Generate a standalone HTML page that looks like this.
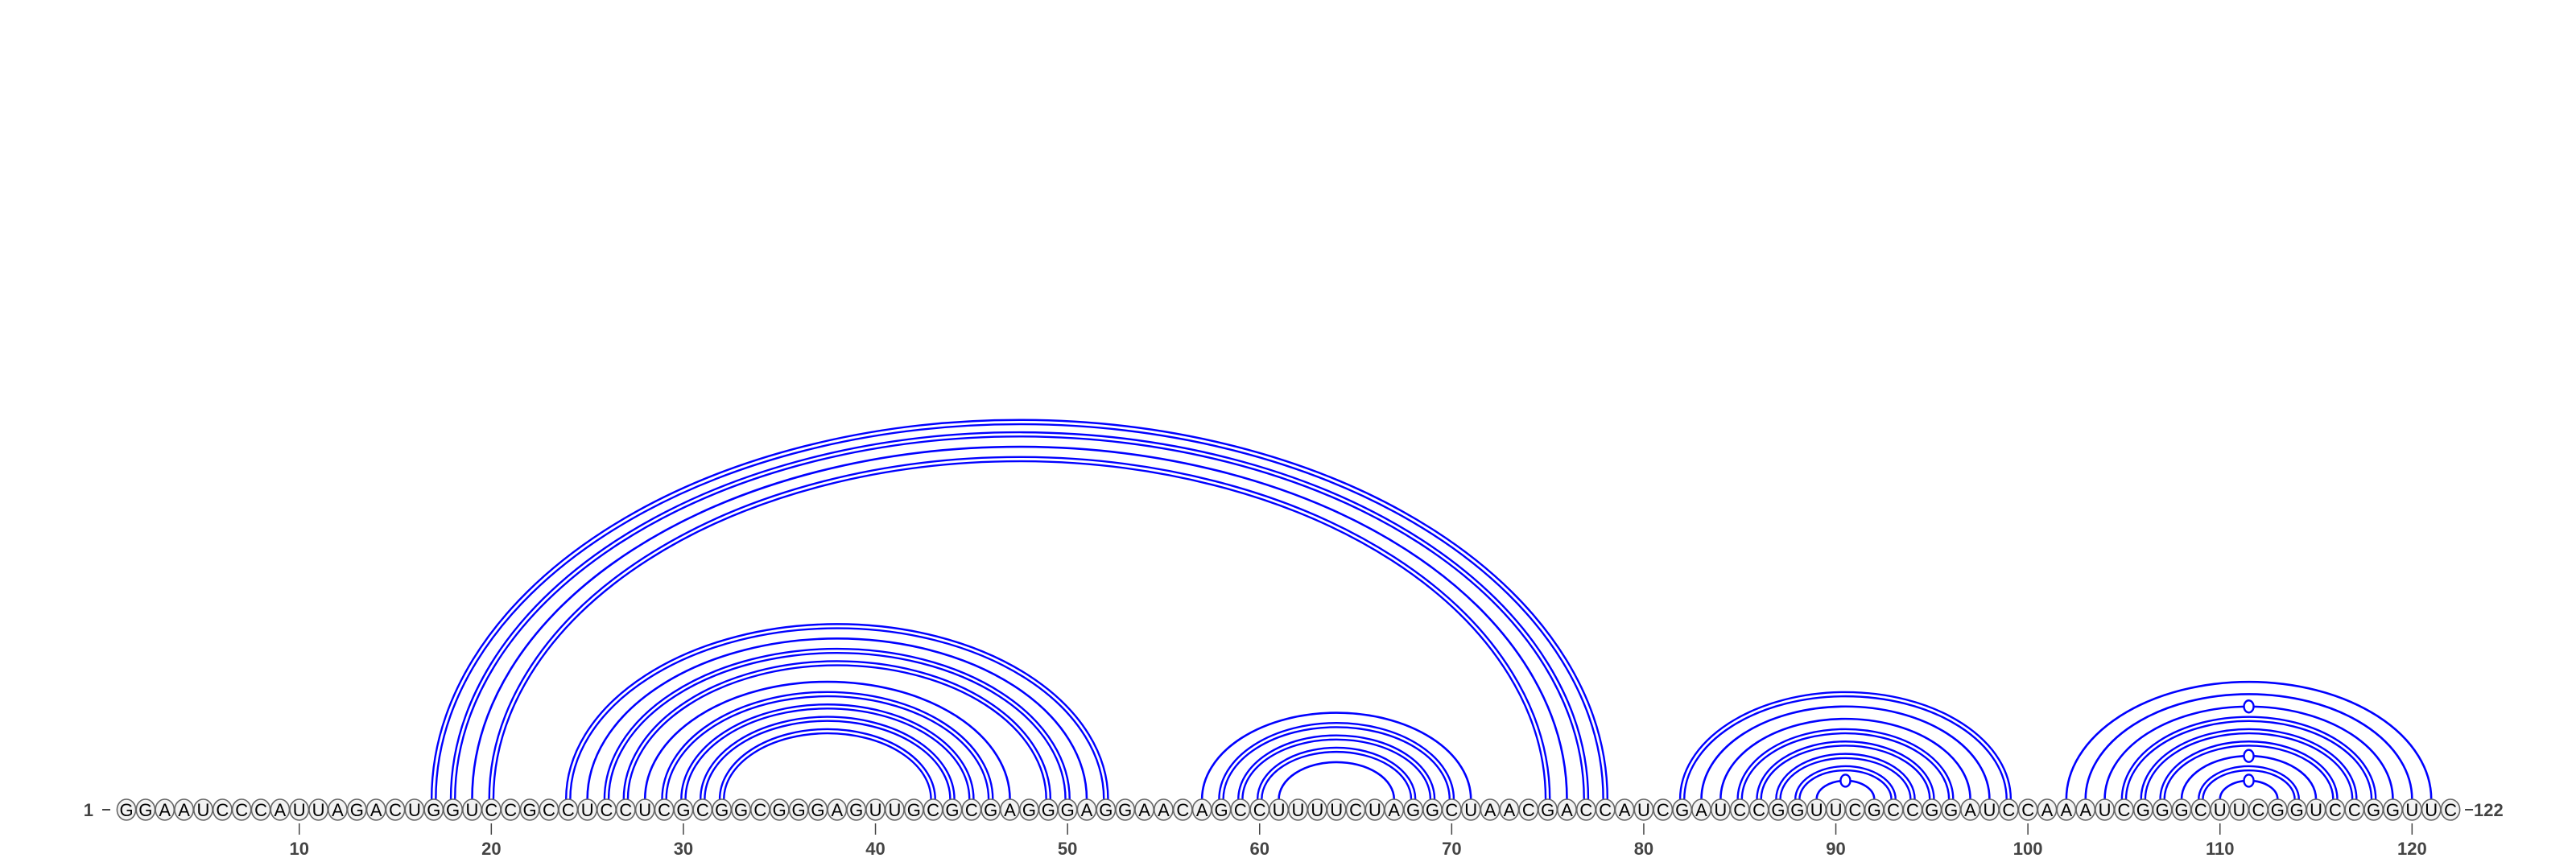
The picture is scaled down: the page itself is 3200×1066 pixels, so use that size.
<!DOCTYPE html>
<html><head><meta charset="utf-8">
<style>
html,body{margin:0;padding:0;background:#fff;}
svg{display:block;}
.nt{font-family:"Liberation Sans","DejaVu Sans",sans-serif;font-size:22px;fill:#000;}
.lbl{font-family:"Liberation Sans","DejaVu Sans",sans-serif;font-size:22px;font-weight:bold;fill:#444;}
</style></head>
<body>
<svg id="chart" width="3200" height="1066" viewBox="0 0 3200 1066" xmlns="http://www.w3.org/2000/svg">
<g id="arcs"></g>
<g id="nts"></g>
<g id="ticks"></g>
</svg>
<script>
const sequence = "GGAAUCCCAUUAGACUGGUCCGCCUCCUCGCGGCGGGAGUUGCGCGAGGGAGGAACAGCCUUUUCUAGGCUAACGACCAUCGAUCCGGUUCGCCGGAUCCAAAUCGGGCUUCGGUCCGGUUC";
const pairStarts = [17,18,19,20, 24,25,26,27,28,29,30,31,32, 57,58,59,60,61, 82,83,84,85,86,87,88,89, 102,103,104,105,106,107,108,109,110];
const pairEnds   = [78,77,76,75, 52,51,50,49,47,46,45,44,43, 71,70,69,68,67, 99,98,97,96,95,94,93,92, 121,120,119,118,117,116,115,114,113];
const tickLabels = [10,20,30,40,50,60,70,80,90,100,110,120];

const NS="http://www.w3.org/2000/svg";
const x0=157, dx=23.86, cy=1006, baseY=993, ratio=0.644;
function xPos(i){return x0+(i-1)*dx;}
function mk(tag,attrs,parent){const e=document.createElementNS(NS,tag);for(const k in attrs)e.setAttribute(k,attrs[k]);parent.appendChild(e);return e;}
const arcsG=document.getElementById('arcs'), ntG=document.getElementById('nts'), tG=document.getElementById('ticks');

function pairType(a,b){
  const p=a+b;
  if(p==="GC"||p==="CG")return "gc";
  if(p==="GU"||p==="UG")return "gu";
  return "au";
}
function arcPath(xa,xb,rx,ry){
  return `M ${xa} ${baseY} A ${rx} ${ry} 0 0 1 ${xb} ${baseY}`;
}
for(let k=0;k<pairStarts.length;k++){
  const i=pairStarts[k], j=pairEnds[k];
  const xa=xPos(i), xb=xPos(j), cx=(xa+xb)/2, rx=(xb-xa)/2, ry=rx*ratio;
  const t=pairType(sequence[i-1],sequence[j-1]);
  const g=mk('g',{},arcsG);
  
  
  if(t==="gc"){
    mk('path',{d:arcPath(xa-2.6,xb+2.6,rx+2.6,ry+2.6),fill:'none',stroke:'#0000ff','stroke-width':2.4},g);
    mk('path',{d:arcPath(xa+2.6,xb-2.6,rx-2.6,ry-2.6),fill:'none',stroke:'#0000ff','stroke-width':2.4},g);
  } else {
    mk('path',{d:arcPath(xa,xb,rx,ry),fill:'none',stroke:'#0000ff','stroke-width':2.6},g);
    if(t==="gu"){
      const m=mk('ellipse',{cx:cx,cy:baseY-ry,rx:6,ry:7.5,fill:'#fff',stroke:'#0000ff','stroke-width':2.4},g);
      
      
    }
  }
}
for(let i=1;i<=sequence.length;i++){
  const g=mk('g',{},ntG);
  
  
  mk('ellipse',{cx:xPos(i),cy:cy,rx:11.6,ry:13,fill:'#f2f2f2',stroke:'#666','stroke-width':1.6},g);
  const t=mk('text',{x:xPos(i),y:cy+8,'text-anchor':'middle',class:'nt'},g);
  t.textContent=sequence[i-1];
}
const s=mk('text',{x:116,y:cy+8,'text-anchor':'end',class:'lbl'},tG);
s.textContent="1";


mk('line',{x1:127,y1:cy,x2:137,y2:cy,stroke:'#444','stroke-width':2},tG);
mk('line',{x1:xPos(122)+18,y1:cy,x2:xPos(122)+28,y2:cy,stroke:'#444','stroke-width':2},tG);
const e=mk('text',{x:xPos(122)+29,y:cy+8,'text-anchor':'start',class:'lbl'},tG);
e.textContent="122";


for(const v of tickLabels){
  const g=mk('g',{},tG);
  
  
  mk('line',{x1:xPos(v),y1:1023,x2:xPos(v),y2:1037,stroke:'#444','stroke-width':1.5},g);
  const t=mk('text',{x:xPos(v),y:1062,'text-anchor':'middle',class:'lbl'},g);
  t.textContent=String(v);
}
</script>
</body></html>
